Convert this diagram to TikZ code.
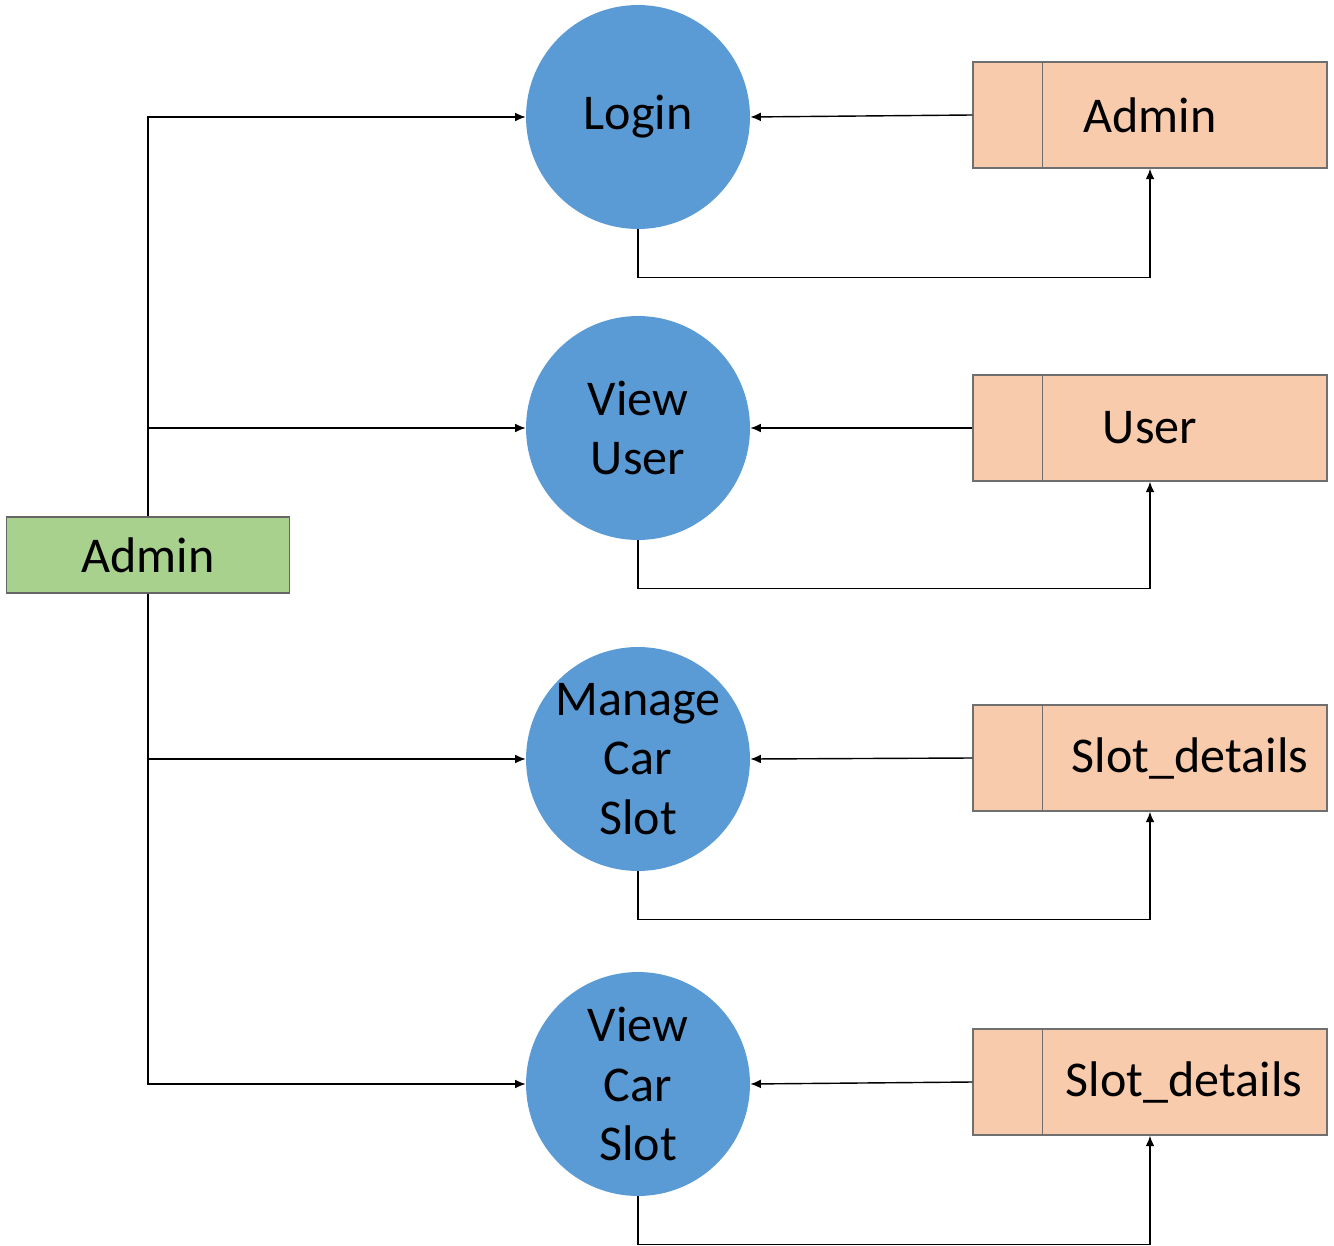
\documentclass[tikz,border=0pt]{standalone}
\usepackage{fontspec}
\setmainfont{Carlito}
\usepackage{xcolor}
\usepackage{tikz}
\usetikzlibrary{
  arrows.meta,
  positioning,
  calc
}
\definecolor{proccolor}{HTML}{5B9BD5}
\definecolor{storecolor}{HTML}{F8CBAD}
\definecolor{entcolor}{HTML}{A9D18E}
\definecolor{edgecolor}{HTML}{6F6F6F}

\begin{document}
\begin{tikzpicture}[
  x=0.02cm, y=-0.02cm,
  proc/.style={circle, fill=proccolor, minimum size=4.48cm, inner sep=0pt, align=center,
    font=\fontsize{28.5}{34}\selectfont},
  store/.style={draw=edgecolor, fill=storecolor, minimum width=7.08cm, minimum height=2.12cm,
    line width=0.8pt},
  stxt/.style={font=\fontsize{28.5}{34}\selectfont, inner sep=0pt},
  ent/.style={draw=black!60, fill=entcolor, minimum width=5.66cm, minimum height=1.52cm,
    line width=0.8pt, font=\fontsize{28.5}{34}\selectfont},
  flow/.style={-{Latex[length=6pt,width=5pt]}, line width=0.8pt},
]
  \useasboundingbox (0,0) rectangle (1334,1246);

  % Processes
  \node[proc] (login) at (638,117) {Login};
  \node[proc] (vuser) at (638,428) {View\\User};
  \node[proc] (mslot) at (638,759) {Manage\\Car\\Slot};
  \node[proc] (vslot) at (638,1084) {View\\Car\\Slot};

  % Data stores
  \node[store] (sadmin) at (1150,115) {};
  \node[store] (suser) at (1150,428) {};
  \node[store] (sslot) at (1150,758) {};
  \node[store] (sslotb) at (1150,1082) {};
  \foreach \s in {sadmin,suser,sslot,sslotb}
    \draw[edgecolor, line width=0.8pt] ($(\s.north west)+(70,0)$) -- ($(\s.south west)+(70,0)$);
  \node[stxt] at (sadmin.center) {Admin};
  \node[stxt] at (suser.center) {User};
  \node[stxt] at ($(sslot.center)+(40,0)$) {Slot\_details};
  \node[stxt] at ($(sslotb.center)+(34,0)$) {Slot\_details};

  % Entity
  \node[ent] (admin) at (148,555) {Admin};

  % Admin to processes
  \draw[flow] (admin.north) |- (login.west);
  \draw[flow] (admin.north) |- (vuser.west);
  \draw[flow] (admin.south) |- (mslot.west);
  \draw[flow] (admin.south) |- (vslot.west);

  % Stores to processes
  \draw[flow] (sadmin.west) -- (login.east);
  \draw[flow] (suser.west) -- (vuser.east);
  \draw[flow] (sslot.west) -- (mslot.east);
  \draw[flow] (sslotb.west) -- (vslot.east);

  % Processes back to stores
  \draw[flow] (login.south) -- ++(0,48) -| (sadmin.south);
  \draw[flow] (vuser.south) -- ++(0,48) -| (suser.south);
  \draw[flow] (mslot.south) -- ++(0,48) -| (sslot.south);
  \draw[flow] (vslot.south) -- ++(0,48) -| (sslotb.south);
\end{tikzpicture}
\end{document}
